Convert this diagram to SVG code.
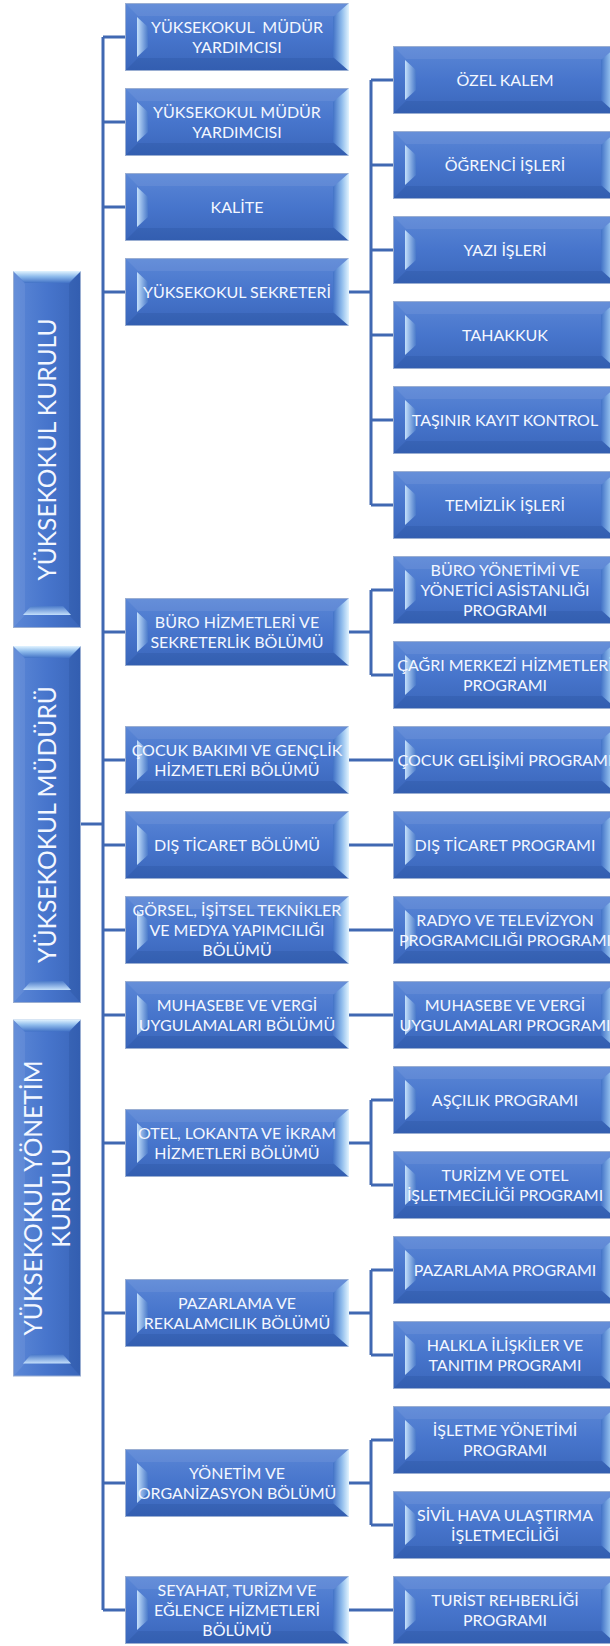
<svg xmlns="http://www.w3.org/2000/svg" width="610" height="1646" viewBox="0 0 610 1646">
<style>
.t{font-family:Lato,"Noto Sans","DejaVu Sans",sans-serif;font-size:16px;fill:#f3f7ff;text-anchor:middle;}
.tv{font-family:Lato,"Noto Sans","DejaVu Sans",sans-serif;font-size:25px;fill:#f3f7ff;text-anchor:middle;}
.c{fill:none;stroke:#4068b2;stroke-width:3;}
</style>
<defs>
<linearGradient id="gBody" x1="0" y1="0" x2="0" y2="1">
<stop offset="0" stop-color="#5b87d6"/>
<stop offset="0.5" stop-color="#4775cc"/>
<stop offset="1" stop-color="#3a66ba"/>
</linearGradient>
<linearGradient id="gRight" x1="0" y1="0" x2="1" y2="0">
<stop offset="0" stop-color="#4272c6"/>
<stop offset="0.55" stop-color="#8fbcec"/>
<stop offset="1" stop-color="#e2f4ff"/>
</linearGradient>
<linearGradient id="gLeft" x1="0" y1="0" x2="1" y2="0">
<stop offset="0" stop-color="#c4e0fb"/>
<stop offset="1" stop-color="#4a7aca"/>
</linearGradient>
<symbol id="box" viewBox="0 0 224 68" overflow="visible">
<rect x="0.5" y="0.5" width="223" height="67" fill="url(#gBody)" stroke="#9aaed2" stroke-width="1"/>
<polygon points="1,1 223,1 210,13 13,13" fill="#ffffff" fill-opacity="0.07"/>
<polygon points="1,67 223,67 209,55 13,55" fill="#0a2a6a" fill-opacity="0.12"/>
<polygon points="12,14 23,24 23,44 12,54" fill="url(#gLeft)"/>
<polygon points="224,0 208,14 208,54 224,68" fill="url(#gRight)"/>
</symbol>
<symbol id="tall" viewBox="0 0 357 68" overflow="visible">
<rect x="0.5" y="0.5" width="356" height="67" fill="url(#gBody)" stroke="#9aaed2" stroke-width="1"/>
<polygon points="1,1 356,1 344,12 13,12" fill="#ffffff" fill-opacity="0.07"/>
<polygon points="1,67 356,67 344,56 13,56" fill="#0a2a6a" fill-opacity="0.12"/>
<polygon points="13,10 22,18 22,50 13,58" fill="url(#gLeft)"/>
<polygon points="357,0 345,12 345,56 357,68" fill="url(#gRight)"/>
</symbol>
</defs>
<rect width="610" height="1646" fill="#ffffff"/>

<g id="connectors">
<path class="c" d="M103,37 V1610"/>
<path class="c" d="M103,37 H125 M103,122 H125 M103,207 H125 M103,292 H125 M103,632 H125 M103,760 H125 M103,845 H125 M103,930 H125 M103,1015 H125 M103,1143 H125 M103,1313 H125 M103,1483 H125 M103,1610 H125"/>
<path class="c" d="M81,824 H103"/>
<path class="c" d="M349,292 H371 M371,80 V505 M371,80 H393 M371,165 H393 M371,250 H393 M371,335 H393 M371,420 H393 M371,505 H393"/>
<path class="c" d="M349,632 H371 M371,590 V675 M371,590 H393 M371,675 H393"/>
<path class="c" d="M349,760 H393 M349,845 H393 M349,930 H393 M349,1015 H393"/>
<path class="c" d="M349,1143 H371 M371,1100 V1185 M371,1100 H393 M371,1185 H393"/>
<path class="c" d="M349,1313 H371 M371,1270 V1355 M371,1270 H393 M371,1355 H393"/>
<path class="c" d="M349,1483 H371 M371,1440 V1525 M371,1440 H393 M371,1525 H393"/>
<path class="c" d="M349,1610 H393"/>
</g>

<g id="kurulu" transform="translate(13,628) rotate(-90)">
<use href="#tall" x="0" y="0" width="357" height="68"/>
<text class="tv" x="178.5" y="43" textLength="262" lengthAdjust="spacingAndGlyphs">YÜKSEKOKUL KURULU</text>
</g>
<g id="mudur" transform="translate(13,1003) rotate(-90)">
<use href="#tall" x="0" y="0" width="357" height="68"/>
<text class="tv" x="178.5" y="43" textLength="277" lengthAdjust="spacingAndGlyphs">YÜKSEKOKUL MÜDÜRÜ</text>
</g>
<g id="yonetim-kurulu" transform="translate(13,1377) rotate(-90)">
<use href="#tall" x="0" y="0" width="358" height="68"/>
<text class="tv" x="179" y="29" textLength="275" lengthAdjust="spacingAndGlyphs">YÜKSEKOKUL YÖNETİM</text>
<text class="tv" x="179" y="57">KURULU</text>
</g>

<g id="l1"><use href="#box" x="125" y="3" width="224" height="68"/><text class="t" style="white-space:pre"><tspan x="237" y="33">YÜKSEKOKUL  MÜDÜR</tspan><tspan x="237" y="53">YARDIMCISI</tspan></text></g>
<g id="l2"><use href="#box" x="125" y="88" width="224" height="68"/><text class="t"><tspan x="237" y="118">YÜKSEKOKUL MÜDÜR</tspan><tspan x="237" y="138">YARDIMCISI</tspan></text></g>
<g id="l3"><use href="#box" x="125" y="173" width="224" height="68"/><text class="t" x="237" y="213">KALİTE</text></g>
<g id="l4"><use href="#box" x="125" y="258" width="224" height="68"/><text class="t" x="237" y="298">YÜKSEKOKUL SEKRETERİ</text></g>
<g id="l5"><use href="#box" x="125" y="598" width="224" height="68"/><text class="t"><tspan x="237" y="628">BÜRO HİZMETLERİ VE</tspan><tspan x="237" y="648">SEKRETERLİK BÖLÜMÜ</tspan></text></g>
<g id="l6"><use href="#box" x="125" y="726" width="224" height="68"/><text class="t"><tspan x="237" y="756">ÇOCUK BAKIMI VE GENÇLİK</tspan><tspan x="237" y="776">HİZMETLERİ BÖLÜMÜ</tspan></text></g>
<g id="l7"><use href="#box" x="125" y="811" width="224" height="68"/><text class="t" x="237" y="851">DIŞ TİCARET BÖLÜMÜ</text></g>
<g id="l8"><use href="#box" x="125" y="896" width="224" height="68"/><text class="t"><tspan x="237" y="916">GÖRSEL, İŞİTSEL TEKNİKLER</tspan><tspan x="237" y="936">VE MEDYA YAPIMCILIĞI</tspan><tspan x="237" y="956">BÖLÜMÜ</tspan></text></g>
<g id="l9"><use href="#box" x="125" y="981" width="224" height="68"/><text class="t"><tspan x="237" y="1011">MUHASEBE VE VERGİ</tspan><tspan x="237" y="1031">UYGULAMALARI BÖLÜMÜ</tspan></text></g>
<g id="l10"><use href="#box" x="125" y="1109" width="224" height="68"/><text class="t"><tspan x="237" y="1139">OTEL, LOKANTA VE İKRAM</tspan><tspan x="237" y="1159">HİZMETLERİ BÖLÜMÜ</tspan></text></g>
<g id="l11"><use href="#box" x="125" y="1279" width="224" height="68"/><text class="t"><tspan x="237" y="1309">PAZARLAMA VE</tspan><tspan x="237" y="1329">REKALAMCILIK BÖLÜMÜ</tspan></text></g>
<g id="l12"><use href="#box" x="125" y="1449" width="224" height="68"/><text class="t"><tspan x="237" y="1479">YÖNETİM VE</tspan><tspan x="237" y="1499">ORGANİZASYON BÖLÜMÜ</tspan></text></g>
<g id="l13"><use href="#box" x="125" y="1576" width="224" height="68"/><text class="t"><tspan x="237" y="1596">SEYAHAT, TURİZM VE</tspan><tspan x="237" y="1616">EĞLENCE HİZMETLERİ</tspan><tspan x="237" y="1636">BÖLÜMÜ</tspan></text></g>

<g id="r0"><use href="#box" x="393" y="46" width="224" height="68"/><text class="t" x="505" y="86">ÖZEL KALEM</text></g>
<g id="r1"><use href="#box" x="393" y="131" width="224" height="68"/><text class="t" x="505" y="171">ÖĞRENCİ İŞLERİ</text></g>
<g id="r2"><use href="#box" x="393" y="216" width="224" height="68"/><text class="t" x="505" y="256">YAZI İŞLERİ</text></g>
<g id="r3"><use href="#box" x="393" y="301" width="224" height="68"/><text class="t" x="505" y="341">TAHAKKUK</text></g>
<g id="r4"><use href="#box" x="393" y="386" width="224" height="68"/><text class="t" x="505" y="426">TAŞINIR KAYIT KONTROL</text></g>
<g id="r5"><use href="#box" x="393" y="471" width="224" height="68"/><text class="t" x="505" y="511">TEMİZLİK İŞLERİ</text></g>
<g id="r6"><use href="#box" x="393" y="556" width="224" height="68"/><text class="t"><tspan x="505" y="576">BÜRO YÖNETİMİ VE</tspan><tspan x="505" y="596">YÖNETİCİ ASİSTANLIĞI</tspan><tspan x="505" y="616">PROGRAMI</tspan></text></g>
<g id="r7"><use href="#box" x="393" y="641" width="224" height="68"/><text class="t"><tspan x="505" y="671">ÇAĞRI MERKEZİ HİZMETLERİ</tspan><tspan x="505" y="691">PROGRAMI</tspan></text></g>
<g id="r8"><use href="#box" x="393" y="726" width="224" height="68"/><text class="t" x="505" y="766">ÇOCUK GELİŞİMİ PROGRAMI</text></g>
<g id="r9"><use href="#box" x="393" y="811" width="224" height="68"/><text class="t" x="505" y="851">DIŞ TİCARET PROGRAMI</text></g>
<g id="r10"><use href="#box" x="393" y="896" width="224" height="68"/><text class="t"><tspan x="505" y="926">RADYO VE TELEVİZYON</tspan><tspan x="505" y="946">PROGRAMCILIĞI PROGRAMI</tspan></text></g>
<g id="r11"><use href="#box" x="393" y="981" width="224" height="68"/><text class="t"><tspan x="505" y="1011">MUHASEBE VE VERGİ</tspan><tspan x="505" y="1031">UYGULAMALARI PROGRAMI</tspan></text></g>
<g id="r12"><use href="#box" x="393" y="1066" width="224" height="68"/><text class="t" x="505" y="1106">AŞÇILIK PROGRAMI</text></g>
<g id="r13"><use href="#box" x="393" y="1151" width="224" height="68"/><text class="t"><tspan x="505" y="1181">TURİZM VE OTEL</tspan><tspan x="505" y="1201">İŞLETMECİLİĞİ PROGRAMI</tspan></text></g>
<g id="r14"><use href="#box" x="393" y="1236" width="224" height="68"/><text class="t" x="505" y="1276">PAZARLAMA PROGRAMI</text></g>
<g id="r15"><use href="#box" x="393" y="1321" width="224" height="68"/><text class="t"><tspan x="505" y="1351">HALKLA İLİŞKİLER VE</tspan><tspan x="505" y="1371">TANITIM PROGRAMI</tspan></text></g>
<g id="r16"><use href="#box" x="393" y="1406" width="224" height="68"/><text class="t"><tspan x="505" y="1436">İŞLETME YÖNETİMİ</tspan><tspan x="505" y="1456">PROGRAMI</tspan></text></g>
<g id="r17"><use href="#box" x="393" y="1491" width="224" height="68"/><text class="t"><tspan x="505" y="1521">SİVİL HAVA ULAŞTIRMA</tspan><tspan x="505" y="1541">İŞLETMECİLİĞİ</tspan></text></g>
<g id="r18"><use href="#box" x="393" y="1576" width="224" height="68"/><text class="t"><tspan x="505" y="1606">TURİST REHBERLİĞİ</tspan><tspan x="505" y="1626">PROGRAMI</tspan></text></g>
</svg>
